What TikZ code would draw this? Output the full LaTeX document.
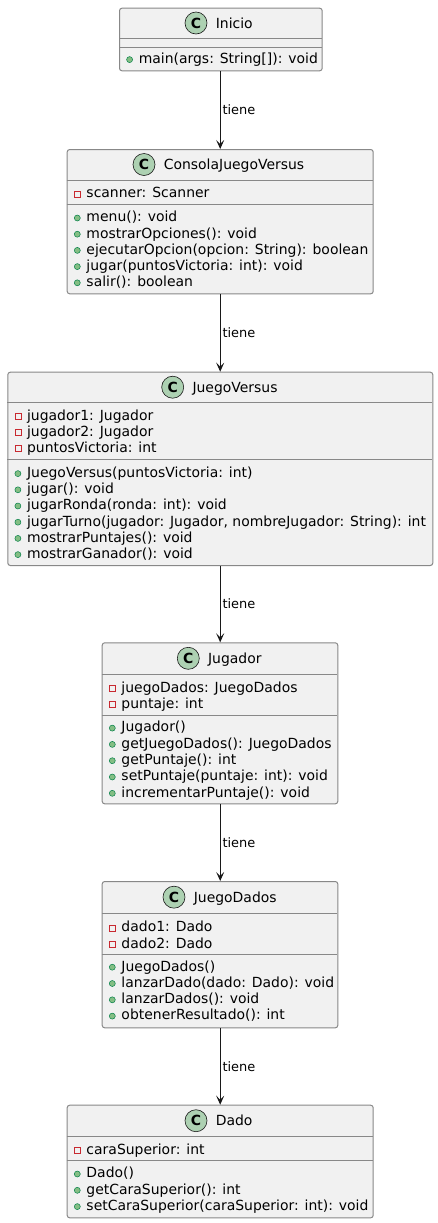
\documentclass[tikz,border=0pt]{standalone}
\usepackage{fontspec}
\setmainfont{DejaVu Sans}
\usetikzlibrary{arrows.meta}
\definecolor{boxbg}{HTML}{F1F1F1}
\definecolor{boxln}{HTML}{888888}
\definecolor{arrln}{HTML}{181818}
\definecolor{circbg}{HTML}{ADD1B2}
\definecolor{privred}{HTML}{C82930}
\definecolor{pubfill}{HTML}{84BE84}
\definecolor{publine}{HTML}{038048}
\tikzset{
 classbox/.style={draw=boxln, line width=1bp, fill=boxbg, rounded corners=2.5bp, inner sep=0pt, anchor=north west},
 sepline/.style={draw=boxln, line width=1bp},
 cicon/.style={circle, draw=arrln, line width=0.6bp, fill=circbg, minimum size=22bp, inner sep=0pt, font=\fontsize{14}{14}\selectfont\bfseries},
 cname/.style={inner sep=0pt, anchor=west, font=\fontsize{14}{16}\selectfont, text height=10.2bp, text depth=0pt},
 rowtext/.style={inner sep=0pt, anchor=west, font=\fontsize{14}{16}\selectfont, text height=10.2bp, text depth=0pt},
 privicon/.style={rectangle, draw=privred, line width=0.7bp, minimum size=6bp, inner sep=0pt},
 pubicon/.style={circle, draw=publine, fill=pubfill, line width=0.5bp, minimum size=6bp, inner sep=0pt},
 assoc/.style={draw=arrln, line width=1bp, -{Stealth[length=9bp,width=8bp,inset=4bp]}},
 elabel/.style={inner sep=0pt, anchor=west, font=\fontsize{13}{15}\selectfont, text height=9.5bp, text depth=0pt},
}
\newcommand\umlhead[9]{%
 \node[classbox, minimum width={(#4-#2)*1bp}, minimum height={(#5-#3)*1bp}] (#1) at (#2,-#3) {};
 \draw[sepline] (#2,-#6) -- (#4,-#6);
 \draw[sepline] (#2,-#7) -- (#4,-#7);
 \node[cicon] (#1c) at (#8,{-(#3+#6)/2}) {C};
 \node[cname] (#1n) at ({#8+19.6},{-(#3+#6)/2}) {#9};
}
\newcommand\prow[4]{%
 \node[privicon] (#1i) at ({#2+10.6},{-(#3)-1.3}) {};
 \node[rowtext] (#1) at ({#2+19.6},{-(#3)}) {#4};
}
\newcommand\mrow[4]{%
 \node[pubicon] (#1i) at ({#2+10.6},{-(#3)-1.3}) {};
 \node[rowtext] (#1) at ({#2+19.6},{-(#3)}) {#4};
}
\begin{document}
\begin{tikzpicture}[x=1bp,y=1bp]
\useasboundingbox (0,0) rectangle (438,-1223);
\fill[white] (0,0) rectangle (438,-1223);

\umlhead{ini}{119}{7.7}{321.7}{70.3}{38.3}{47.3}{196}{Inicio}
\mrow{ini1}{119}{58.3}{main(args: String[]): void}

\umlhead{con}{66.7}{149}{372.7}{293.3}{180}{204.3}{144}{ConsolaJuegoVersus}
\prow{con1}{66.7}{192.7}{scanner: Scanner}
\mrow{con2}{66.7}{216.7}{menu(): void}
\mrow{con3}{66.7}{232.9}{mostrarOpciones(): void}
\mrow{con4}{66.7}{249.1}{ejecutarOpcion(opcion: String): boolean}
\mrow{con5}{66.7}{265.3}{jugar(puntosVictoria: int): void}
\mrow{con6}{66.7}{281.5}{salir(): boolean}

\umlhead{jv}{7.3}{371.7}{432.3}{565}{402.7}{459.3}{172.7}{JuegoVersus}
\prow{jv1}{7.3}{415}{jugador1: Jugador}
\prow{jv2}{7.3}{431.2}{jugador2: Jugador}
\prow{jv3}{7.3}{447.4}{puntosVictoria: int}
\mrow{jv4}{7.3}{472.3}{JuegoVersus(puntosVictoria: int)}
\mrow{jv5}{7.3}{488.5}{jugar(): void}
\mrow{jv6}{7.3}{504.7}{jugarRonda(ronda: int): void}
\mrow{jv7}{7.3}{520.9}{jugarTurno(jugador: Jugador, nombreJugador: String): int}
\mrow{jv8}{7.3}{537.1}{mostrarPuntajes(): void}
\mrow{jv9}{7.3}{553.3}{mostrarGanador(): void}

\umlhead{jug}{101.7}{642.3}{337.3}{803.3}{674.3}{715}{188.3}{Jugador}
\prow{jug1}{101.7}{687.3}{juegoDados: JuegoDados}
\prow{jug2}{101.7}{703.5}{puntaje: int}
\mrow{jug3}{101.7}{726.8}{Jugador()}
\mrow{jug4}{101.7}{743.1}{getJuegoDados(): JuegoDados}
\mrow{jug5}{101.7}{759.4}{getPuntaje(): int}
\mrow{jug6}{101.7}{775.7}{setPuntaje(puntaje: int): void}
\mrow{jug7}{101.7}{792}{incrementarPuntaje(): void}

\umlhead{jd}{101.7}{881}{337.3}{1027.3}{913.3}{954.3}{174}{JuegoDados}
\prow{jd1}{101.7}{926.7}{dado1: Dado}
\prow{jd2}{101.7}{942.9}{dado2: Dado}
\mrow{jd3}{101.7}{965.9}{JuegoDados()}
\mrow{jd4}{101.7}{982.2}{lanzarDado(dado: Dado): void}
\mrow{jd5}{101.7}{998.5}{lanzarDados(): void}
\mrow{jd6}{101.7}{1014.8}{obtenerResultado(): int}

\umlhead{dado}{66.7}{1104.7}{372.7}{1217.3}{1136.7}{1160.7}{196}{Dado}
\prow{dado1}{66.7}{1149.3}{caraSuperior: int}
\mrow{dado2}{66.7}{1172.7}{Dado()}
\mrow{dado3}{66.7}{1189}{getCaraSuperior(): int}
\mrow{dado4}{66.7}{1205.3}{setCaraSuperior(caraSuperior: int): void}

\draw[assoc] (con.north |- ini.south) -- (con.north) node[elabel, midway, xshift=1.8bp] (l1) {tiene};
\draw[assoc] (con.south) -- (jv.north -| con.south) node[elabel, midway, xshift=1.8bp] (l2) {tiene};
\draw[assoc] (con.south |- jv.south) -- (jug.north -| con.south) node[elabel, midway, xshift=1.8bp] (l3) {tiene};
\draw[assoc] (con.south |- jug.south) -- (jd.north -| con.south) node[elabel, midway, xshift=1.8bp] (l4) {tiene};
\draw[assoc] (con.south |- jd.south) -- (dado.north) node[elabel, midway, xshift=1.8bp] (l5) {tiene};
\end{tikzpicture}
\end{document}
